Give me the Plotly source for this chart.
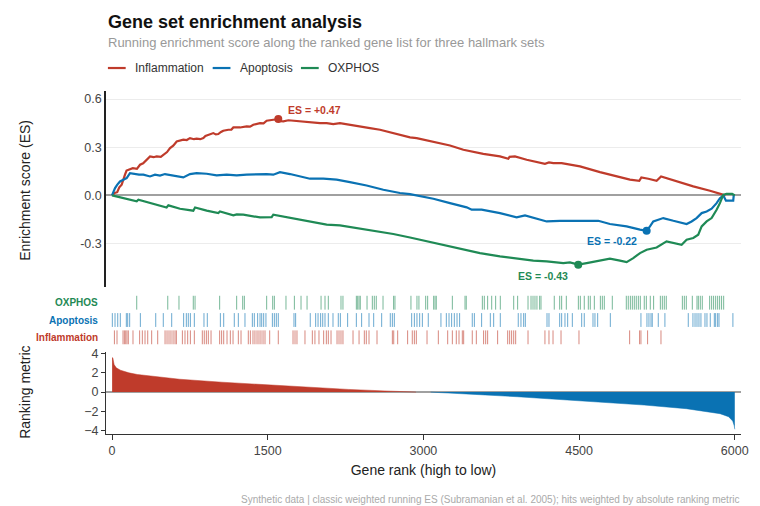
import plotly.graph_objects as go

# running enrichment score (rank, ES)
infl_rank = [0, 25, 50, 70, 93, 110, 125, 140, 157, 200, 240, 270, 300, 318, 345, 366, 400, 430, 470, 494,
             530, 559, 590, 623, 660, 687, 720, 751, 790, 815, 850, 880, 900, 928, 976, 1000, 1024, 1050,
             1072, 1121, 1150, 1169, 1210, 1233, 1297, 1330, 1361, 1426, 1460, 1490, 1554, 1602, 1630, 1650,
             1700, 1715, 1779, 1843, 1907, 1950, 2004, 2068, 2132, 2196, 2260, 2325, 2389, 2485, 2582, 2678,
             2774, 2871, 2935, 3096, 3256, 3385, 3577, 3738, 3818, 3830, 3882, 3995, 4171, 4210, 4252, 4332,
             4509, 4701, 4862, 4990, 5080, 5100, 5167, 5247, 5290, 5440, 5600, 5761, 5910]
infl_es = [0.0, 0.015, 0.02, 0.05, 0.067, 0.11, 0.129, 0.155, 0.16, 0.17, 0.165, 0.191, 0.2, 0.212, 0.225,
           0.243, 0.238, 0.243, 0.24, 0.253, 0.27, 0.295, 0.31, 0.336, 0.34, 0.347, 0.345, 0.357, 0.35, 0.353,
           0.35, 0.357, 0.37, 0.378, 0.388, 0.38, 0.382, 0.395, 0.403, 0.409, 0.41, 0.423, 0.42, 0.423, 0.43,
           0.428, 0.44, 0.45, 0.448, 0.465, 0.471, 0.475, 0.462, 0.461, 0.468, 0.467, 0.461, 0.457, 0.455,
           0.452, 0.45, 0.45, 0.444, 0.45, 0.444, 0.436, 0.43, 0.419, 0.409, 0.392, 0.378, 0.361, 0.357,
           0.336, 0.311, 0.284, 0.259, 0.243, 0.228, 0.24, 0.243, 0.222, 0.197, 0.205, 0.201, 0.201, 0.181,
           0.145, 0.118, 0.098, 0.091, 0.112, 0.104, 0.091, 0.118, 0.087, 0.056, 0.029, 0.0]

apop_rank = [0, 29, 51, 77, 109, 141, 173, 221, 260, 302, 366, 414, 462, 510, 591, 687, 751, 815, 912, 1008,
             1105, 1201, 1297, 1393, 1490, 1554, 1618, 1715, 1811, 1907, 2036, 2164, 2292, 2453, 2614, 2774,
             2871, 2935, 3096, 3256, 3417, 3465, 3561, 3738, 3898, 3979, 4123, 4188, 4316, 4444, 4573, 4685,
             4797, 4958, 5087, 5151, 5183, 5215, 5263, 5311, 5408, 5536, 5584, 5632, 5681, 5729, 5777, 5825,
             5857, 5890, 5915, 5985, 5990, 6000]
apop_es = [0.0, 0.046, 0.067, 0.087, 0.098, 0.108, 0.139, 0.133, 0.13, 0.129, 0.118, 0.129, 0.123, 0.133,
           0.125, 0.112, 0.133, 0.139, 0.135, 0.125, 0.129, 0.125, 0.129, 0.133, 0.133, 0.129, 0.145, 0.133,
           0.118, 0.104, 0.104, 0.098, 0.083, 0.062, 0.035, 0.015, 0.008, 0.0, -0.021, -0.048, -0.074, -0.089,
           -0.089, -0.11, -0.137, -0.124, -0.151, -0.162, -0.158, -0.158, -0.162, -0.158, -0.178, -0.193,
           -0.213, -0.22, -0.193, -0.162, -0.151, -0.141, -0.158, -0.178, -0.162, -0.141, -0.11, -0.1, -0.083,
           -0.048, -0.017, 0.0, -0.033, -0.033, 0.0, 0.0]

oxph_rank = [0, 238, 254, 398, 526, 543, 655, 783, 800, 912, 1024, 1040, 1169, 1201, 1265, 1426, 1538, 1554,
             1747, 1939, 2068, 2196, 2389, 2582, 2710, 2871, 2967, 3160, 3353, 3545, 3738, 3931, 4059, 4188,
             4348, 4412, 4492, 4573, 4701, 4797, 4894, 4958, 5022, 5087, 5151, 5247, 5343, 5440, 5488, 5536,
             5600, 5648, 5681, 5729, 5777, 5825, 5857, 5889, 5920, 5975, 6000]
oxph_es = [0.0, -0.037, -0.027, -0.054, -0.075, -0.062, -0.083, -0.095, -0.075, -0.095, -0.11, -0.1, -0.124,
           -0.118, -0.12, -0.137, -0.135, -0.12, -0.145, -0.166, -0.182, -0.187, -0.207, -0.224, -0.24, -0.262,
           -0.276, -0.303, -0.332, -0.359, -0.379, -0.394, -0.406, -0.411, -0.421, -0.417, -0.431, -0.421,
           -0.406, -0.394, -0.406, -0.415, -0.39, -0.359, -0.338, -0.324, -0.286, -0.297, -0.307, -0.276,
           -0.265, -0.245, -0.193, -0.162, -0.141, -0.089, -0.048, 0.004, 0.01, 0.01, 0.0]

# gene set hit positions along the ranked list
infl_hits = [23, 48, 106, 119, 132, 144, 157, 202, 266, 292, 318, 344, 382, 440, 511, 530, 549, 568, 588, 607,
             620, 678, 703, 729, 755, 793, 870, 889, 909, 928, 954, 1037, 1056, 1076, 1108, 1140, 1166, 1217,
             1243, 1313, 1333, 1358, 1377, 1397, 1416, 1435, 1455, 1474, 1519, 1602, 1744, 1763, 1782, 1859,
             1930, 1955, 1994, 2039, 2065, 2084, 2110, 2168, 2187, 2206, 2225, 2322, 2380, 2431, 2450, 2476,
             2553, 2701, 2714, 2752, 2848, 2893, 2913, 2932, 3035, 3144, 3234, 3279, 3317, 3343, 3375, 3388,
             3471, 3510, 3580, 3600, 3619, 3715, 3812, 3831, 3850, 3870, 3889, 4008, 4171, 4210, 4249, 4326,
             4499, 4987, 5083, 5096, 5160, 5289]
apop_hits = [3, 29, 55, 80, 138, 151, 170, 273, 421, 494, 575, 690, 716, 735, 755, 793, 886, 918, 1044, 1076,
             1178, 1217, 1281, 1352, 1371, 1403, 1426, 1442, 1461, 1483, 1545, 1564, 1583, 1602, 1753, 1769,
             1910, 1962, 1985, 2010, 2030, 2052, 2084, 2129, 2180, 2200, 2270, 2354, 2405, 2476, 2521, 2598,
             2681, 2701, 2720, 2887, 2913, 2938, 2964, 2990, 3047, 3169, 3221, 3247, 3272, 3298, 3324, 3349,
             3471, 3491, 3561, 3645, 3677, 3741, 3914, 3940, 3966, 3982, 4191, 4210, 4313, 4332, 4364, 4390,
             4435, 4525, 4550, 4634, 4653, 4679, 4801, 5096, 5154, 5173, 5193, 5205, 5263, 5327, 5552, 5597,
             5617, 5636, 5655, 5674, 5713, 5732, 5764, 5803, 5816, 5835, 5848, 5982]
oxph_hits = [238, 537, 645, 783, 800, 1037, 1201, 1259, 1275, 1490, 1548, 1564, 1676, 1757, 1821, 1879, 2014,
             2052, 2084, 2206, 2225, 2354, 2367, 2380, 2392, 2457, 2508, 2527, 2546, 2611, 2713, 2726, 2880,
             2938, 2957, 3022, 3041, 3099, 3112, 3124, 3279, 3401, 3413, 3568, 3587, 3619, 3658, 3696, 3741,
             3870, 3908, 4008, 4037, 4056, 4075, 4094, 4120, 4133, 4261, 4313, 4332, 4377, 4493, 4512, 4550,
             4589, 4608, 4647, 4705, 4724, 4743, 4820, 4955, 4974, 4994, 5013, 5032, 5051, 5071, 5090, 5128,
             5148, 5186, 5218, 5283, 5302, 5321, 5340, 5495, 5514, 5533, 5591, 5636, 5649, 5668, 5687, 5758,
             5777, 5796, 5816, 5835, 5854, 5873, 5893]

# ranking metric (sampled), positive head and negative tail
metric_rank_pos = [1, 8, 20, 41, 81, 163, 244, 447, 651, 1058, 1465, 1871, 2278, 2685, 2929]
metric_val_pos = [3.6, 3.55, 2.86, 2.52, 2.28, 2.0, 1.83, 1.55, 1.34, 1.03, 0.76, 0.52, 0.28, 0.10, 0.0]
metric_rank_neg = [3070, 3295, 3499, 3906, 4312, 4719, 5126, 5533, 5736, 5858, 5940, 5980, 5995, 6000]
metric_val_neg = [0.0, -0.10, -0.24, -0.48, -0.76, -1.03, -1.34, -1.72, -2.0, -2.24, -2.55, -3.0, -3.5, -3.86]

# enrichment score peaks
set_names = ['Inflammation', 'Apoptosis', 'OXPHOS']
peak_rank = [1602, 5151, 4492]
peak_es = [0.475, -0.22, -0.431]
es_values = [0.47, -0.22, -0.43]

RED = '#bf3b2b'
BLUE = '#0a72b3'
GREEN = '#1f8a55'
colors = [RED, BLUE, GREEN]
FONT = 'Liberation Sans, Arial, sans-serif'

fig = go.Figure()

curves = [(infl_rank, infl_es), (apop_rank, apop_es), (oxph_rank, oxph_es)]
for name, (r, es), c in zip(set_names, curves, colors):
    fig.add_trace(go.Scatter(x=r, y=es, mode='lines', name=name, showlegend=False,
                             line=dict(color=c, width=2.2), yaxis='y', hoverinfo='skip'))

for i, c in enumerate(colors):
    fig.add_trace(go.Scatter(x=[peak_rank[i]], y=[peak_es[i]], mode='markers', showlegend=False,
                             marker=dict(color=c, size=8), yaxis='y'))

# hit ticks: one row per set (OXPHOS top, Inflammation bottom)
hit_sets = [(infl_hits, 0, RED), (apop_hits, 1, BLUE), (oxph_hits, 2, GREEN)]
for hits, row, c in hit_sets:
    xs, ys = [], []
    for h in hits:
        xs += [h, h, None]
        ys += [row + 0.1, row + 0.9, None]
    fig.add_trace(go.Scatter(x=xs, y=ys, mode='lines', showlegend=False, opacity=0.6,
                             line=dict(color=c, width=1), yaxis='y2', hoverinfo='skip'))

fig.add_trace(go.Scatter(x=metric_rank_pos, y=metric_val_pos, mode='lines', fill='tozeroy',
                         fillcolor=RED, line=dict(color=RED, width=0.5), showlegend=False, yaxis='y3'))
fig.add_trace(go.Scatter(x=metric_rank_neg, y=metric_val_neg, mode='lines', fill='tozeroy',
                         fillcolor=BLUE, line=dict(color=BLUE, width=0.5), showlegend=False, yaxis='y3'))

annotations = []
shapes = []
# ES labels next to the peaks
label_pos = [('left', 8, 9), ('right', -8, -10), ('right', -8, -11)]
for i, c in enumerate(colors):
    xa, xs, ysh = label_pos[i]
    annotations.append(dict(x=peak_rank[i], y=peak_es[i], xref='x', yref='y', text='ES = %+.2f' % es_values[i],
                            showarrow=False, xanchor=xa, yanchor='middle', xshift=xs, yshift=ysh,
                            font=dict(size=10.5, color=c, family=FONT, weight='bold')))
# row labels for the hit ticks
for hits, row, c in hit_sets:
    annotations.append(dict(x=-0.0095, y=row + 0.5, xref='paper', yref='y2',
                            text=set_names[colors.index(c)], showarrow=False,
                            xanchor='right', yanchor='middle',
                            font=dict(size=10, color=c, family=FONT, weight='bold')))
# compact legend above the plot (short line keys like the original)
legend_x = [0.003, 0.168, 0.307]
for name, c, lx in zip(set_names, colors, legend_x):
    shapes.append(dict(type='line', xref='paper', yref='paper', x0=lx, x1=lx + 0.028, y0=1.067, y1=1.067,
                       line=dict(color=c, width=2.2)))
    annotations.append(dict(x=lx + 0.04, y=1.067, xref='paper', yref='paper', text=name, showarrow=False,
                            xanchor='left', yanchor='middle', font=dict(size=12, color='#333', family=FONT)))
annotations += [
    dict(x=0, y=1.201, xref='paper', yref='paper', text='Gene set enrichment analysis', showarrow=False,
         xanchor='left', yanchor='middle', font=dict(size=18, color='#111', family=FONT, weight='bold')),
    dict(x=0, y=1.140, xref='paper', yref='paper',
         text='Running enrichment score along the ranked gene list for three hallmark sets', showarrow=False,
         xanchor='left', yanchor='middle', font=dict(size=13, color='#999', family=FONT)),
    dict(x=-0.128, y=0.711, xref='paper', yref='paper', text='Enrichment score (ES)', textangle=-90,
         showarrow=False, xanchor='center', yanchor='middle', font=dict(size=14, color='#222', family=FONT)),
    dict(x=-0.128, y=0.122, xref='paper', yref='paper', text='Ranking metric', textangle=-90,
         showarrow=False, xanchor='center', yanchor='middle', font=dict(size=14, color='#222', family=FONT)),
    dict(x=1, y=-0.19, xref='paper', yref='paper',
         text='Synthetic data | classic weighted running ES (Subramanian et al. 2005); '
              'hits weighted by absolute ranking metric',
         showarrow=False, xanchor='right', yanchor='middle', font=dict(size=10, color='#aaa', family=FONT)),
]

fig.update_layout(
    width=760, height=506,
    margin=dict(l=106, r=19, t=91, b=72),
    plot_bgcolor='white', paper_bgcolor='white',
    font=dict(family=FONT, size=12.5, color='#444'),
    showlegend=False,
    xaxis=dict(range=[-58, 6060], anchor='y3', tickvals=[0, 1500, 3000, 4500, 6000],
               ticks='outside', ticklen=5, tickcolor='#333', showline=True, linecolor='#333', linewidth=1.2,
               showgrid=False, zeroline=False,
               title=dict(text='Gene rank (high to low)', standoff=8, font=dict(size=14, color='#222'))),
    yaxis=dict(domain=[0.4286, 1], range=[-0.57, 0.65], tickvals=[-0.3, 0, 0.3, 0.6],
               ticktext=['-0.3', '0.0', '0.3', '0.6'], showgrid=True, gridcolor='#ececec',
               zeroline=True, zerolinecolor='#a0a0a0', zerolinewidth=1.5,
               showline=True, linecolor='#222', linewidth=1.5, ticks=''),
    yaxis2=dict(domain=[0.2566, 0.408], range=[0, 3], visible=False),
    yaxis3=dict(domain=[0, 0.24], range=[-4.35, 4.2], tickvals=[-4, -2, 0, 2, 4],
                ticks='outside', ticklen=4, tickcolor='#333', showgrid=False,
                zeroline=True, zerolinecolor='#a0a0a0', zerolinewidth=1.5,
                showline=True, linecolor='#333', linewidth=1.2),
    annotations=annotations,
    shapes=shapes,
)

# the page body has a default 8px margin; drop it so the figure sits at the window origin
fig.write_html('out.html', config={'displayModeBar': False},
               post_script="document.body.style.margin='0px';")
